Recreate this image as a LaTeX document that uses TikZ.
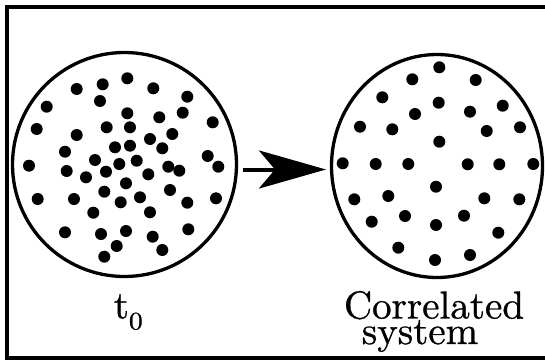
\documentclass[tikz,border=0pt]{standalone}
\usepackage{fontspec}
\newfontfamily\lmthick{lmroman10-regular.otf}[FakeBold=0.8]
\usetikzlibrary{arrows.meta,shapes.geometric}
\tikzset{
  framebox/.style={draw=black, line width=4pt},
  ring/.style={draw=black, line width=3.3pt, inner sep=0pt, outer sep=0pt},
  bigarrow/.style={line width=4pt, -{Stealth[length=67pt, width=38pt, inset=16pt]}},
  lbl/.style={inner sep=0pt, outer sep=0pt, anchor=base, font=\lmthick},
}
\newcommand{\dotr}{6pt}
\begin{document}
\begin{tikzpicture}[x=1pt,y=-1pt]
\useasboundingbox (0,0) rectangle (545,361);
\clip (0,0) rectangle (545,361);
% frame (right side runs off the picture)
\draw[framebox] (6.5,7.5) rectangle (570,357.5);
% circles
\node[ring, circle, minimum size=224pt] (L) at (124.5,164.5) {};
\node[ring, ellipse, minimum width=211pt, minimum height=223pt] (R) at (437,166) {};
% dots, left (random)
\foreach \x/\y in {76.7/89, 102.7/84.3, 127.3/78.3, 153.3/88.3, 187.3/96.7,
  46.7/106.7, 100/101, 127.3/113.3, 159.3/117.3, 182.7/112.7, 212.7/122.3,
  36.7/129, 76.7/135, 106.7/127.3, 130/127.3, 150/139, 172.3/134,
  65/151.7, 115/147.3, 130/145.7, 162.3/148.3, 207.7/156,
  29/165.7, 66.7/171, 95/160, 119.3/164, 136.7/160.7, 168.3/166.7, 179.3/170.7, 218.3/166.7,
  86/177.3, 106/171.7, 148.3/174.3, 126/183.3,
  37.7/199, 74/199, 104.3/191.7, 170/190, 140/197.3, 120.7/202.3, 187.3/202.7, 216/198.3,
  93.3/212.7, 150/212.3,
  65/232.3, 101/234, 126/231, 152.7/236.7, 188.3/229.3,
  116.7/246, 162.3/250, 104.3/256.7}
  \fill (\x,\y) circle [radius=\dotr];
% dots, right (correlated)
\foreach \x/\y in {439.3/67.3, 412.3/79.3, 475.7/80, 382.3/97.3, 438.7/102.7,
  415/114, 470/111.7, 502.7/105.7, 360/126.7, 392.3/129.3, 486.7/131, 520/127.3,
  439.3/141.7, 342.7/163.3, 375.7/164, 408.3/164, 467.7/164.3, 499.3/164.3, 533.3/164,
  436/186.7, 354.3/199.3, 388.3/196, 484.3/198.3, 519.3/199.3,
  371.7/221.7, 405/216, 436/225, 464/215.7, 498.3/232.7,
  398.3/247.7, 435/260, 470/255}
  \fill (\x,\y) circle [radius=\dotr];
% arrow
\coordinate (a1) at (242.7,169.5);
\coordinate (a2) at (326,169.5);
\draw[bigarrow] (a1) -- (a2);
% labels
\node[lbl, anchor=base west] (t0) at (113.8,318.3)
  {{\fontsize{39}{39}\selectfont t}\raisebox{-11pt}{\scalebox{1.1}[1]{\fontsize{25}{25}\selectfont 0}}};
\node[lbl] (c1) at (434,318.5) {\fontsize{39}{39}\selectfont Correlated};
\node[lbl] (c2) at (420,344) {\fontsize{39}{39}\selectfont system};
\end{tikzpicture}
\end{document}
